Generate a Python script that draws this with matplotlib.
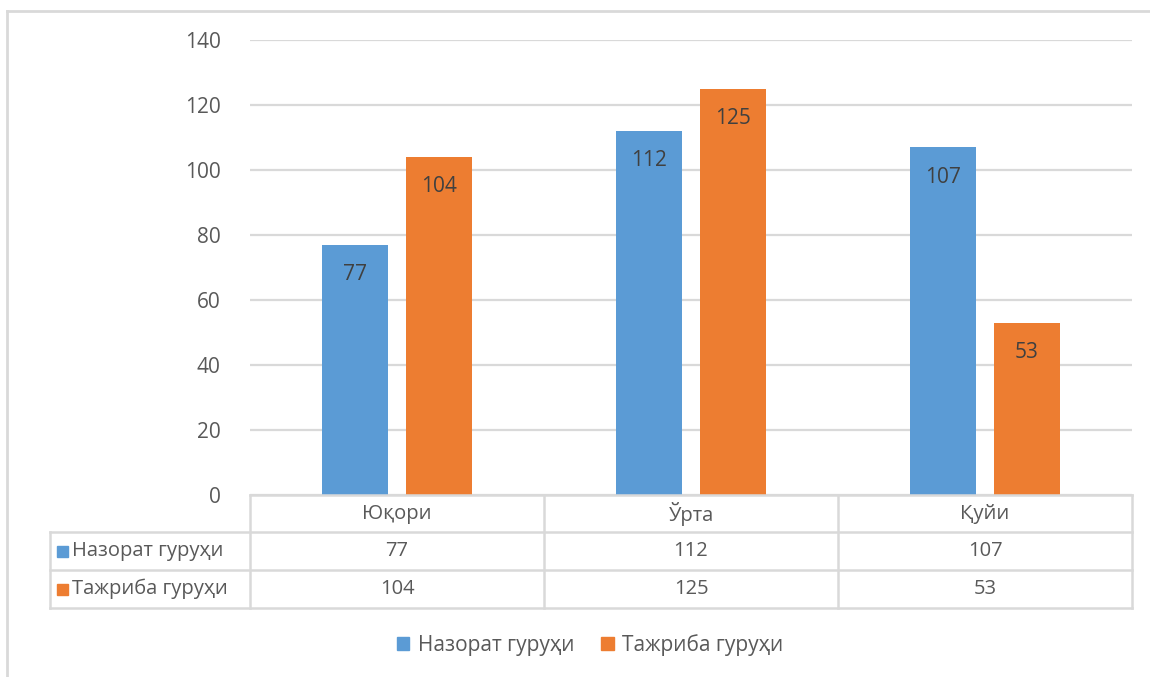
import matplotlib
matplotlib.use("Agg")
import matplotlib.pyplot as plt
from matplotlib.lines import Line2D
from matplotlib.patches import Patch
import numpy as np

plt.rcParams['font.family'] = ['Open Sans', 'DejaVu Sans']

# data
categories = ["Юқори", "Ўрта", "Қуйи"]
series_names = ["Назорат гуруҳи", "Тажриба гуруҳи"]
nazorat = [77, 112, 107]
tajriba = [104, 125, 53]
y_ticks = [0, 20, 40, 60, 80, 100, 120, 140]

BLUE = "#5b9bd5"
ORANGE = "#ed7d31"
GRID = "#d9d9d9"
TXT = "#595959"
LBL = "#404040"

W, H = 1150, 677
fig = plt.figure(figsize=(W / 100, H / 100), dpi=100)

def fx(px):
    return px / W

def fy(py):
    return 1 - py / H

# plot area in pixels
L, R, T, B = 250, 1132, 40, 495
ax = fig.add_axes([fx(L), fy(B), fx(R) - fx(L), fy(T) - fy(B)])
ax.set_xlim(0, 3)
ax.set_ylim(0, 140)
for s in ax.spines.values():
    s.set_visible(False)
ax.set_yticks(y_ticks)
ax.yaxis.grid(True, color=GRID, lw=1.6)
ax.set_axisbelow(True)
ax.tick_params(axis='y', length=0, pad=21, labelsize=15, labelcolor=TXT)
ax.set_xticks([])

x = np.arange(len(categories)) + 0.5
bw = 0.225
off = 0.143
b1 = ax.bar(x - off, nazorat, bw, color=BLUE)
b2 = ax.bar(x + off, tajriba, bw, color=ORANGE)
for bars in (b1, b2):
    ax.bar_label(bars, labels=[str(v) for v in bars.datavalues], padding=-29,
                 fontsize=15, color=LBL)

# data table
rows = [B, 532, 570, 608]
cols = [L, 544, 838, R]
tbl_left = 50
lw = 1.8

def hline(y, x0, x1):
    fig.add_artist(Line2D([fx(x0), fx(x1)], [fy(y), fy(y)], color=GRID, lw=lw))

def vline(x, y0, y1):
    fig.add_artist(Line2D([fx(x), fx(x)], [fy(y0), fy(y1)], color=GRID, lw=lw))

hline(rows[0], L, R)
for r in rows[1:]:
    hline(r, tbl_left, R)
for c in cols:
    vline(c, rows[0], rows[-1])
vline(tbl_left, rows[1], rows[-1])

for i, cat in enumerate(categories):
    cx = (cols[i] + cols[i + 1]) / 2
    fig.text(fx(cx), fy((rows[0] + rows[1]) / 2), cat, ha='center', va='center',
             fontsize=14.5, color=TXT)
    for j, vals in enumerate((nazorat, tajriba)):
        fig.text(fx(cx), fy((rows[j + 1] + rows[j + 2]) / 2), str(vals[i]),
                 ha='center', va='center', fontsize=14.5, color=TXT)

for j, (name, col) in enumerate(zip(series_names, (BLUE, ORANGE))):
    yc = (rows[j + 1] + rows[j + 2]) / 2
    fig.add_artist(plt.Rectangle((fx(57), fy(yc + 6)), fx(11), 11 / H,
                                 color=col, transform=fig.transFigure))
    fig.text(fx(72), fy(yc), name, ha='left', va='center', fontsize=14.5, color=TXT)

# legend
handles = [Patch(color=BLUE), Patch(color=ORANGE)]
fig.legend(handles, series_names, loc='center', bbox_to_anchor=(fx(590), fy(645)),
           ncol=2, frameon=False, fontsize=15, labelcolor=TXT,
           handlelength=0.6, handleheight=0.6, handletextpad=0.4, columnspacing=1.3)

# outer frame
fig.add_artist(Line2D([fx(7), fx(W)], [fy(11), fy(11)], color=GRID, lw=2))
fig.add_artist(Line2D([fx(7), fx(7)], [fy(11), fy(H)], color=GRID, lw=2))

fig.savefig("out.png", dpi=100, facecolor="white")
